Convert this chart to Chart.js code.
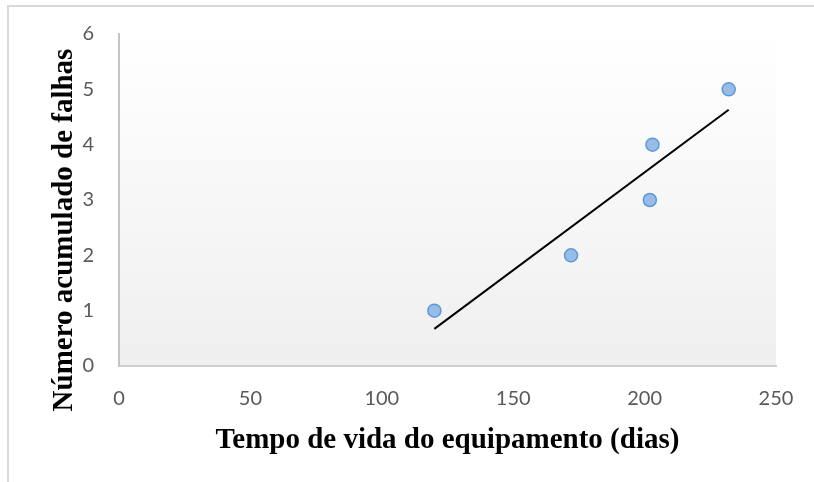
<!DOCTYPE html>
<html lang="pt">
<head>
<meta charset="utf-8">
<title>Falhas acumuladas</title>
<script src="https://cdn.jsdelivr.net/npm/chart.js@4.4.1/dist/chart.umd.min.js"></script>
<style>
  html, body { margin: 0; padding: 0; background: #fff; overflow: hidden; }
  #moldura {
    position: absolute; left: 7px; top: 5px;
    width: 900px; height: 600px;
    border-top: 2px solid #d9d9d9; border-left: 2px solid #d9d9d9;
  }
  #wrap { position: absolute; left: 0; top: 0; width: 814px; height: 482px; }
</style>
</head>
<body>
<div id="moldura"></div>
<div id="wrap"><canvas id="grafico" width="814" height="482"></canvas></div>
<script>
// ==========================================================
// Dados
// ==========================================================
const tempoDias = [120, 172, 202, 203, 232];
const falhasAcumuladas = [1, 2, 3, 4, 5];

// linha de tendência (extremos)
const tendenciaX = [120, 232];
const tendenciaY = [0.67, 4.63];

const ticksX = [0, 50, 100, 150, 200, 250];
const ticksY = [0, 1, 2, 3, 4, 5, 6];

const tituloX = "Tempo de vida do equipamento (dias)";
const tituloY = "Número acumulado de falhas";

// fundo do plot em degradê + títulos dos eixos
const fundoPlot = {
  id: "fundoPlot",
  beforeDraw(chart) {
    const { ctx, chartArea: a } = chart;
    const g = ctx.createLinearGradient(0, a.top, 0, a.bottom);
    g.addColorStop(0, "#ffffff");
    g.addColorStop(1, "#efefef");
    ctx.save();
    ctx.fillStyle = g;
    ctx.fillRect(a.left, a.top, a.right - a.left, a.bottom - a.top);
    ctx.restore();
  },
  afterDraw(chart) {
    const { ctx, chartArea: a } = chart;
    ctx.save();
    ctx.fillStyle = "#000";
    ctx.font = "bold 29px 'Liberation Serif', 'Times New Roman', serif";
    ctx.textAlign = "center";
    ctx.textBaseline = "alphabetic";
    ctx.fillText(tituloX, (a.left + a.right) / 2, a.bottom + 82);

    ctx.translate(a.left - 47, (a.top + a.bottom) / 2 + 30);
    ctx.rotate(-Math.PI / 2);
    ctx.fillText(tituloY, 0, 0);
    ctx.restore();
  }
};

const pontos = tempoDias.map((x, i) => ({ x, y: falhasAcumuladas[i] }));
const tendencia = tendenciaX.map((x, i) => ({ x, y: tendenciaY[i] }));

const fonteTicks = { family: "Lato, 'Open Sans', sans-serif", size: 20 };

new Chart(document.getElementById("grafico"), {
  type: "scatter",
  data: {
    datasets: [
      {
        label: "Falhas",
        data: pontos,
        backgroundColor: "#98bce7",
        borderColor: "#5b9bd5",
        borderWidth: 1.5,
        pointRadius: 6.5,
        order: 1
      },
      {
        label: "Tendência",
        type: "line",
        data: tendencia,
        borderColor: "#000",
        borderWidth: 2,
        pointRadius: 0,
        fill: false,
        order: 2
      }
    ]
  },
  options: {
    responsive: false,
    animation: false,
    layout: { padding: { top: 34, right: 38, left: 0, bottom: 0 } },
    plugins: { legend: { display: false }, tooltip: { enabled: false } },
    scales: {
      x: {
        type: "linear",
        min: ticksX[0],
        max: ticksX[ticksX.length - 1],
        afterBuildTicks: s => { s.ticks = ticksX.map(v => ({ value: v })); },
        afterFit: s => { s.height = 116; },
        grid: { display: false },
        border: { display: true, color: "#d0d0d0", width: 2 },
        ticks: { color: "#595959", font: fonteTicks, padding: 13 }
      },
      y: {
        type: "linear",
        min: ticksY[0],
        max: ticksY[ticksY.length - 1],
        afterBuildTicks: s => { s.ticks = ticksY.map(v => ({ value: v })); },
        afterFit: s => { s.width = 119; },
        grid: { display: false },
        border: { display: true, color: "#c4c4c4", width: 2 },
        ticks: { color: "#595959", font: fonteTicks, padding: 17 }
      }
    }
  },
  plugins: [fundoPlot]
});
</script>
</body>
</html>
